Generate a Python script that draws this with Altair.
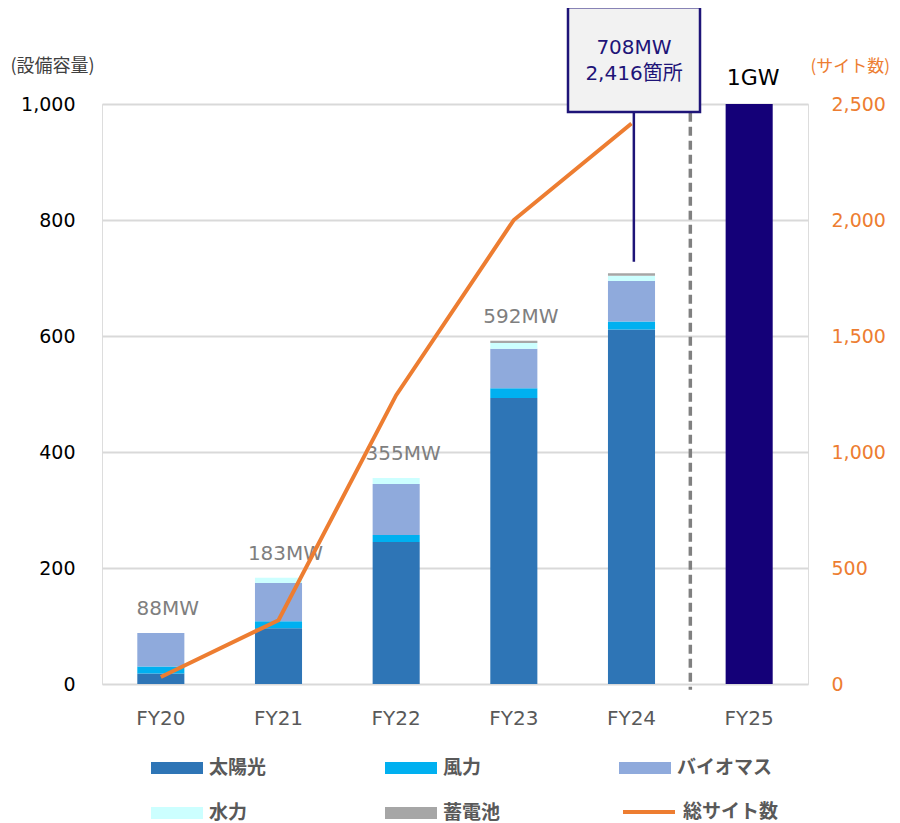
import altair as alt
import pandas as pd

# ---------------- data ----------------
years = ["FY20", "FY21", "FY22", "FY23", "FY24"]
target_year = "FY25"
sources = ["太陽光", "風力", "バイオマス", "水力", "蓄電池"]
legend_order = ["太陽光", "水力", "風力", "蓄電池", "バイオマス"]  # column-major fill
solar = [18, 96, 245, 493, 611]
wind = [12, 12, 12, 17, 14]
biomass = [58, 66, 88, 68, 70]
hydro = [0, 9, 10, 10, 9]
battery = [0, 0, 0, 4, 4]
total_mw = [88, 183, 355, 592, 708]
sites = [30, 275, 1245, 2000, 2416]
target_mw = 1000
target_label = "1GW"
left_ticks = [0, 200, 400, 600, 800, 1000]
right_ticks = [0, 500, 1000, 1500, 2000, 2500]
line_series = "総サイト数"

# annotation anchor values (in capacity units)
callout_top = 1167
callout_bottom = 986
callout_text_y = 1097
connector_bottom = 728
divider_top = 985
divider_bottom = -10

# ---------------- styles ----------------
source_colors = ["#2E75B6", "#00B0F0", "#8FAADC", "#CCFFFF", "#A6A6A6"]
ORANGE = "#ED7D31"
NAVY = "#1E1478"
TARGET_NAVY = "#140078"
F_LAT = "DejaVu Sans"
F_JP = "Noto Sans CJK JP"
F_MIX = "DejaVu Sans, Noto Sans CJK JP"

rows = []
for i, yr in enumerate(years):
    for k, (s, vals) in enumerate(zip(sources, [solar, wind, biomass, hydro, battery])):
        rows.append({"year": yr, "source": s, "mw": vals[i], "order": k})
df_stack = pd.DataFrame(rows)
df_target = pd.DataFrame({"year": [target_year], "mw": [target_mw], "label": [target_label]})
df_labels = pd.DataFrame({"year": years[:4], "mw": total_mw[:4],
                          "label": [f"{v}MW" for v in total_mw[:4]]})
df_line = pd.DataFrame({"year": years, "sites": sites, "series": [line_series] * len(years)})
df_divider = pd.DataFrame({"year": [years[-1]], "top": [divider_top], "bottom": [divider_bottom]})
df_conn = pd.DataFrame({"year": [years[-1]], "top": [callout_bottom], "bottom": [connector_bottom]})
df_box = pd.DataFrame({"year": [years[-1]], "top": [callout_top], "bottom": [callout_bottom]})
df_box_text = pd.DataFrame({"year": [years[-1]], "y": [callout_text_y],
                            "label": [f"{total_mw[-1]}MW\n{sites[-1]:,}箇所"]})

xscale = alt.Scale(domain=years + [target_year], paddingInner=0.6, paddingOuter=0.3)
xaxis = alt.Axis(title=None, labelAngle=0, labelFontSize=20, labelColor="#595959",
                 labelFont=F_LAT, labelPadding=24, ticks=False, domain=False, grid=False)
yscale = alt.Scale(domain=[0, 1000], nice=False)
yaxis = alt.Axis(values=left_ticks, format=",d", title="(設備容量)", titleAngle=0,
                 titleX=-92, titleY=-38, titleAlign="left", titleBaseline="middle",
                 titleFont=F_JP, titleFontSize=18, titleFontWeight="normal",
                 titleColor="#404040", labelFont=F_LAT, labelFontSize=19,
                 labelColor="#000000", labelPadding=27, ticks=False, domain=False,
                 grid=True, gridColor="#D9D9D9", gridWidth=2)


def X(**kw):
    return alt.X("year:N", scale=xscale, axis=xaxis, **kw)


def Y(field, **kw):
    return alt.Y(f"{field}:Q", scale=yscale, axis=yaxis, **kw)


bars = alt.Chart(df_stack).mark_bar().encode(
    x=X(),
    y=Y("mw", stack="zero"),
    color=alt.Color("source:N",
                    scale=alt.Scale(domain=sources, range=source_colors),
                    legend=alt.Legend(title=None, orient="none", legendX=49, legendY=638,
                                      values=legend_order,
                                      columns=3, columnPadding=118, rowPadding=9,
                                      symbolType="M-1,-0.23H1V0.23H-1Z", symbolSize=2704,
                                      symbolStrokeWidth=0, symbolOpacity=1,
                                      labelFont=F_JP, labelFontSize=19,
                                      labelFontWeight="bold", labelColor="#595959",
                                      labelOffset=6, labelLimit=300, padding=0)),
    order=alt.Order("order:Q", sort="ascending"),
)

target_bar = alt.Chart(df_target).mark_bar(color=TARGET_NAVY).encode(x=X(), y=Y("mw"))

total_text = alt.Chart(df_labels).mark_text(
    dy=-24, dx=7, fontSize=20, font=F_LAT, color="#7F7F7F", baseline="middle"
).encode(x=X(), y=Y("mw"), text="label:N")

target_text = alt.Chart(df_target).mark_text(
    dy=-26, dx=4, fontSize=22, font=F_LAT, color="#000000", baseline="middle"
).encode(x=X(), y=Y("mw"), text="label:N")

# dashed divider sits midway between the FY24 band end and the FY25 band start
divider = alt.Chart(df_divider).mark_rule(
    strokeDash=[9, 5], strokeWidth=3.5, color="#808080", xOffset=35.3
).encode(x=X(bandPosition=1), y=Y("top"), y2="bottom:Q")

connector = alt.Chart(df_conn).mark_rule(color=NAVY, strokeWidth=2.5).encode(
    x=X(bandPosition=0.55), y=Y("top"), y2="bottom:Q")

box = alt.Chart(df_box).mark_bar(
    width=132, xOffset=2.5, fill="#F2F2F2", stroke=NAVY, strokeWidth=2.5
).encode(x=X(), y=Y("top"), y2="bottom:Q")

box_text = alt.Chart(df_box_text).mark_text(
    lineBreak="\n", lineHeight=26, fontSize=20, font=F_MIX, color=NAVY,
    baseline="middle", dx=2.5
).encode(x=X(), y=Y("y"), text="label:N")

left = alt.layer(bars, target_bar, total_text, target_text, divider, connector, box, box_text)

line = alt.Chart(df_line).mark_line(strokeWidth=4).encode(
    x=X(),
    y=alt.Y("sites:Q", scale=alt.Scale(domain=[0, 2500], nice=False),
            axis=alt.Axis(orient="right", values=right_ticks, format=",d",
                          title="(サイト数)", titleAngle=0, titleX=2, titleY=-38,
                          titleAlign="left", titleBaseline="middle", titleFont=F_JP,
                          titleFontSize=17, titleFontWeight="normal", titleColor=ORANGE,
                          labelFont=F_LAT, labelFontSize=19, labelColor=ORANGE,
                          labelPadding=23, ticks=False, domain=False, grid=False)),
    stroke=alt.Stroke("series:N", scale=alt.Scale(domain=[line_series], range=[ORANGE]),
                      legend=alt.Legend(title=None, orient="none", legendX=519, legendY=680,
                                        symbolType="stroke", symbolSize=2704,
                                        symbolStrokeWidth=4, labelFont=F_JP,
                                        labelFontSize=19, labelFontWeight="bold",
                                        labelColor="#595959", labelOffset=6,
                                        labelLimit=300, padding=0)),
)

chart = alt.layer(left, line).resolve_scale(y="independent").properties(
    width=706, height=580,
    autosize=alt.AutoSizeParams(type="none"),
    padding={"left": 94, "top": 96, "right": 84, "bottom": 139},
).configure_view(stroke=None).configure(background="white")

chart.save("out.html", embed_options={"renderer": "svg", "actions": False})
